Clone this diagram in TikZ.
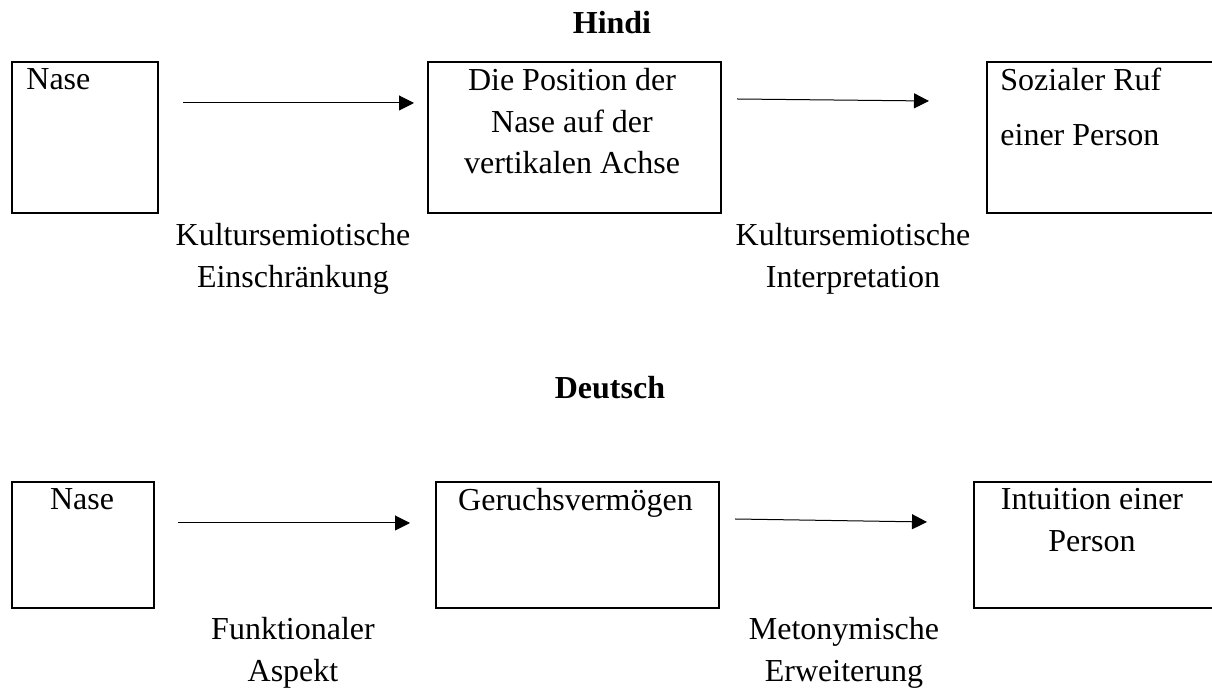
\documentclass[tikz,border=0pt]{standalone}
\usepackage{fontspec}
\setmainfont{Liberation Serif}
\usetikzlibrary{arrows.meta}

\tikzset{
  frame/.style={draw, line width=1pt, anchor=north west, inner sep=0pt},
  txt/.style={inner sep=0pt, font=\fontsize{16}{21}\selectfont},
  lbl/.style={txt, align=center, anchor=north},
  hdr/.style={inner sep=0pt, anchor=base, font=\fontsize{16}{21}\selectfont\bfseries},
  arr/.style={line width=0.5pt, -{Triangle[length=7.5pt,width=7.5pt]}},
}

\begin{document}
\begin{tikzpicture}[x=0.5pt, y=-0.5pt]
  \useasboundingbox (0,0) rectangle (1212,688);

  % Hindi
  \node[hdr] (hindi) at (612,34) {Hindi};
  \node[frame, minimum width=73pt, minimum height=75.5pt] (hnase) at (11,61) {};
  \node[frame, minimum width=146.5pt, minimum height=75.5pt] (hpos) at (427,61) {};
  \node[frame, minimum width=150pt, minimum height=75.5pt] (hruf) at (986,61) {};
  \node[txt, anchor=north west] (hnaset) at (26,68) {Nase};
  \node[lbl, font=\fontsize{16}{20.75}\selectfont] (hpost) at (572,68)
    {Die Position der\\Nase auf der\\vertikalen Achse};
  \node[txt, anchor=north west, align=left, font=\fontsize{16}{27.5}\selectfont] (hruft) at (1000,68)
    {Sozialer Ruf\\einer Person};
  \node[lbl] (hl1) at (293,223) {Kultursemiotische\\Einschränkung};
  \node[lbl] (hl2) at (853,223) {Kultursemiotische\\Interpretation};
  \coordinate (ha1) at (183,103);
  \coordinate (ha2) at (414,103);
  \coordinate (ha3) at (737,99);
  \coordinate (ha4) at (929,101);
  \draw[arr] (ha1) -- (ha2);
  \draw[arr] (ha3) -- (ha4);

  % Deutsch
  \node[hdr] (deutsch) at (610,399) {Deutsch};
  \node[frame, minimum width=71pt, minimum height=63pt] (dnase) at (11,481) {};
  \node[frame, minimum width=141.5pt, minimum height=63pt] (dger) at (435,481) {};
  \node[frame, minimum width=150pt, minimum height=63pt] (dint) at (973,481) {};
  \node[lbl] (dnaset) at (82,488) {Nase};
  \node[lbl] (dgert) at (575.5,488) {Geruchsvermögen};
  \node[lbl] (dintt) at (1092,488) {Intuition einer\\Person};
  \node[lbl] (dl1) at (293,617) {Funktionaler\\Aspekt};
  \node[lbl] (dl2) at (844,617) {Metonymische\\Erweiterung};
  \coordinate (da1) at (178,523);
  \coordinate (da2) at (410,523);
  \coordinate (da3) at (735,519);
  \coordinate (da4) at (927,522);
  \draw[arr] (da1) -- (da2);
  \draw[arr] (da3) -- (da4);
\end{tikzpicture}
\end{document}
